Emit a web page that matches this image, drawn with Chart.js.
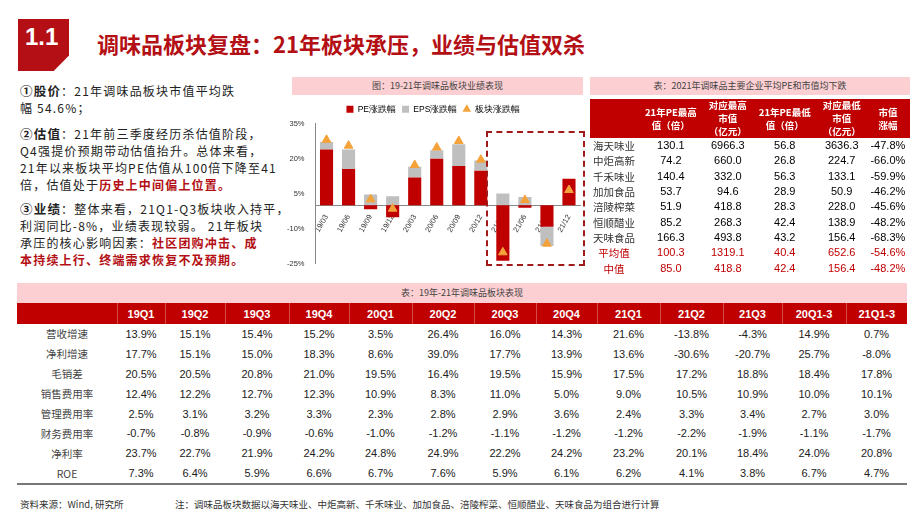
<!DOCTYPE html>
<html><head><meta charset="utf-8">
<script src="https://cdn.jsdelivr.net/npm/chart.js@4"></script>
<style>
body{margin:0;width:920px;height:518px;position:relative;background:#fff;font-family:"Noto Sans CJK SC","Noto Sans",sans-serif;overflow:hidden}
.abs{position:absolute}
#badge{left:18px;top:19px;width:51px;height:52px;background:#b30f14;color:#fff;font:bold 24px Arial,"Liberation Sans";padding:0 0 0 7px;box-sizing:border-box;line-height:36px;clip-path:polygon(0 0,100% 0,100% 70%,70% 100%,0 100%)}
#title{left:97px;top:28px;font-size:22px;font-weight:bold;color:#b30f14;line-height:30px}
.para{left:20px;font-size:12px;line-height:17px;color:#222;letter-spacing:1.2px;white-space:nowrap}
.para b{font-weight:bold;font-size:12.5px}
.red{color:#b30f14;font-weight:bold}
.pink{background:#fccfd2;color:#444;font-size:9px;text-align:center}
table{border-collapse:collapse;font-family:"Liberation Sans",Arial,"Noto Sans CJK SC";}
#t1{left:590px;top:99px;width:320px;font-size:11px}
#t1 th{background:#c00000;color:#fff;font-size:9.5px;line-height:13px;font-weight:bold;height:39px;padding:0;font-family:"Noto Sans CJK SC"}
#t1 td{height:15.3px;padding:0;text-align:center;line-height:15px}
#t1 td:first-child{font-family:"Noto Sans CJK SC";font-size:10.5px;color:#333}
#t1 tr.r td{color:#c00000}
#t2{left:17px;top:303px;width:890px;font-size:11px;table-layout:fixed}
#t2 th{background:#c00000;color:#fff;font-weight:bold;height:21px;font-size:11px;border-left:1px solid #d84a4a;padding:0}
#t2 td{height:19.9px;padding:0;text-align:center;color:#222}
#t2 td:first-child{font-family:"Noto Sans CJK SC";font-size:10.5px;color:#444}
#t2 tr:last-child td{border-bottom:2px solid #777}
.foot{top:497px;font-size:9.5px;color:#333}
</style></head><body>
<div id="badge" class="abs">1.1</div>
<div id="title" class="abs">调味品板块复盘：21年板块承压，业绩与估值双杀</div>
<div class="abs para" style="top:82px"><b>①股价</b>：21年调味品板块市值平均跌<br>幅 54.6%；</div>
<div class="abs para" style="top:125px"><b>②估值</b>：21年前三季度经历杀估值阶段，<br>Q4强提价预期带动估值抬升。总体来看，<br>21年以来板块平均PE估值从100倍下降至41<br>倍，估值处于<span class="red">历史上中间偏上位置。</span></div>
<div class="abs para" style="top:200px"><b>③业绩</b>：整体来看，21Q1-Q3板块收入持平，<br>利润同比-8%，业绩表现较弱。 21年板块<br>承压的核心影响因素：<span class="red">社区团购冲击、成<br>本持续上行、终端需求恢复不及预期。</span></div>

<div class="abs pink" style="left:292px;top:77px;width:291px;height:18px;line-height:18px">图：19-21年调味品板块业绩表现</div>
<div class="abs" style="left:284px;top:99px;width:302px;height:172px"><canvas id="c"></canvas></div>
<div class="abs" style="left:486px;top:131px;width:99px;height:135px;border:2px dashed #a11a1a;box-sizing:border-box"></div>

<div class="abs pink" style="left:590px;top:77px;width:320px;height:18px;line-height:18px">表：2021年调味品主要企业平均PE和市值均下跌</div>
<table id="t1" class="abs"><thead><tr><th style="width:48px;background:#c00000"></th><th>21年PE最高<br>值（倍）</th><th>对应最高<br>市值<br>（亿元）</th><th>21年PE最低<br>值（倍）</th><th>对应最低<br>市值<br>（亿元）</th><th>市值<br>涨幅</th></tr></thead><tbody id="t1b"></tbody></table>

<div class="abs pink" style="left:17px;top:283px;width:890px;height:20px;line-height:20px">表：19年-21年调味品板块表现</div>
<table id="t2" class="abs"><colgroup id="cg"></colgroup><thead><tr id="t2h"></tr></thead><tbody id="t2b"></tbody></table>

<div class="abs foot" style="left:20px">资料来源：Wind, 研究所</div>
<div class="abs foot" style="left:175px">注：调味品板块数据以海天味业、中炬高新、千禾味业、加加食品、涪陵榨菜、恒顺醋业、天味食品为组合进行计算</div>
<script>
const categories=['19/03','19/06','19/09','19/12','20/03','20/06','20/09','20/12','21/03','21/06','21/09','21/12'];
const peChange=[23.9,15.5,-1.8,-5.2,11.9,19.9,16.8,14.7,-23.8,-1.1,-9.3,11.3];
const epsChange=[3.2,8.4,4.6,3.8,4.6,3.6,9.3,4.4,5.0,3.5,-8.2,0];
const sectorChange=[28,25.5,2.5,-1.5,17.2,24.7,27.5,19.5,-20.2,2.2,-16.5,6.5];
const yTicks=[35,20,5,-10,-25];

const companies=['海天味业','中炬高新','千禾味业','加加食品','涪陵榨菜','恒顺醋业','天味食品','平均值','中值'];
const peHigh=['130.1','74.2','140.4','53.7','51.9','85.2','166.3','100.3','85.0'];
const capHigh=['6966.3','660.0','332.0','94.6','418.8','268.3','493.8','1319.1','418.8'];
const peLow=['56.8','26.8','56.3','28.9','28.3','42.4','43.2','40.4','42.4'];
const capLow=['3636.3','224.7','133.1','50.9','228.0','138.9','156.4','652.6','156.4'];
const capChg=['-47.8%','-66.0%','-59.9%','-46.2%','-45.6%','-48.2%','-68.3%','-54.6%','-48.2%'];

const quarters=['19Q1','19Q2','19Q3','19Q4','20Q1','20Q2','20Q3','20Q4','21Q1','21Q2','21Q3','20Q1-3','21Q1-3'];
const metrics=['营收增速','净利增速','毛销差','销售费用率','管理费用率','财务费用率','净利率','ROE'];
const revenueGrowth=['13.9%','15.1%','15.4%','15.2%','3.5%','26.4%','16.0%','14.3%','21.6%','-13.8%','-4.3%','14.9%','0.7%'];
const profitGrowth=['17.7%','15.1%','15.0%','18.3%','8.6%','39.0%','17.7%','13.9%','13.6%','-30.6%','-20.7%','25.7%','-8.0%'];
const grossSalesGap=['20.5%','20.5%','20.8%','21.0%','19.5%','16.4%','19.5%','15.9%','17.5%','17.2%','18.8%','18.4%','17.8%'];
const salesExp=['12.4%','12.2%','12.7%','12.3%','10.9%','8.3%','11.0%','5.0%','9.0%','10.5%','10.9%','10.0%','10.1%'];
const adminExp=['2.5%','3.1%','3.2%','3.3%','2.3%','2.8%','2.9%','3.6%','2.4%','3.3%','3.4%','2.7%','3.0%'];
const finExp=['-0.7%','-0.8%','-0.9%','-0.6%','-1.0%','-1.2%','-1.1%','-1.2%','-1.2%','-2.2%','-1.9%','-1.1%','-1.7%'];
const netMargin=['23.7%','22.7%','21.9%','24.2%','24.8%','24.9%','22.2%','24.2%','23.2%','20.1%','18.4%','24.0%','20.8%'];
const roe=['7.3%','6.4%','5.9%','6.6%','6.7%','7.6%','5.9%','6.1%','6.2%','4.1%','3.8%','6.7%','4.7%'];

let h='';
companies.forEach((c,i)=>{h+=`<tr class="${i>=7?'r':''}"><td>${c}</td><td>${peHigh[i]}</td><td>${capHigh[i]}</td><td>${peLow[i]}</td><td>${capLow[i]}</td><td>${capChg[i]}</td></tr>`});
document.getElementById('t1b').innerHTML=h;
const widths=[100,48,60,64,60,63,62,62,61,63,63,59,64,61];
document.getElementById('cg').innerHTML=widths.map(w=>`<col style="width:${w}px">`).join('');
document.getElementById('t2h').innerHTML='<th style="border-left:none"></th>'+quarters.map(q=>`<th>${q}</th>`).join('');
const rows=[revenueGrowth,profitGrowth,grossSalesGap,salesExp,adminExp,finExp,netMargin,roe];
document.getElementById('t2b').innerHTML=rows.map((r,i)=>'<tr><td>'+metrics[i]+'</td>'+r.map(v=>`<td>${v}</td>`).join('')+'</tr>').join('');

new Chart(document.getElementById('c'),{
 data:{labels:categories,datasets:[
  {type:'bar',label:'PE涨跌幅',data:peChange,backgroundColor:'#c00000',stack:'s',barPercentage:0.85,categoryPercentage:0.7,order:1},
  {type:'bar',label:'EPS涨跌幅',data:epsChange,backgroundColor:'#bfbfbf',stack:'s',barPercentage:0.85,categoryPercentage:0.7,order:1},
  {type:'line',label:'板块涨跌幅',data:sectorChange,stack:'tri',showLine:false,backgroundColor:'#f4a23a',borderColor:'#f4a23a',pointStyle:'triangle',pointRadius:5,order:0}
 ]},
 options:{responsive:true,maintainAspectRatio:false,animation:false,
  layout:{padding:{top:0,right:4}},
  plugins:{legend:{position:'top',labels:{boxWidth:7,boxHeight:7,font:{size:8.5},color:'#333',padding:6,usePointStyle:true,
    generateLabels:(ch)=>ch.data.datasets.map((d,i)=>({text:d.label,fillStyle:d.backgroundColor,strokeStyle:d.backgroundColor,lineWidth:0,pointStyle:i==2?'triangle':'rect',datasetIndex:i}))}},tooltip:{enabled:false}},
  scales:{
   x:{type:'category',stacked:true,z:1,position:{y:0},grid:{display:false},border:{color:'#888'},ticks:{font:{size:7.5},color:'#333',maxRotation:60,minRotation:60,autoSkip:false,padding:0}},
   y:{stacked:true,min:-25,max:35,afterBuildTicks:a=>{a.ticks=yTicks.map(v=>({value:v}))},grid:{display:false},border:{color:'#888'},ticks:{font:{size:7.5},color:'#333',callback:v=>v+'%'}}
  }}
});
</script></body></html>
